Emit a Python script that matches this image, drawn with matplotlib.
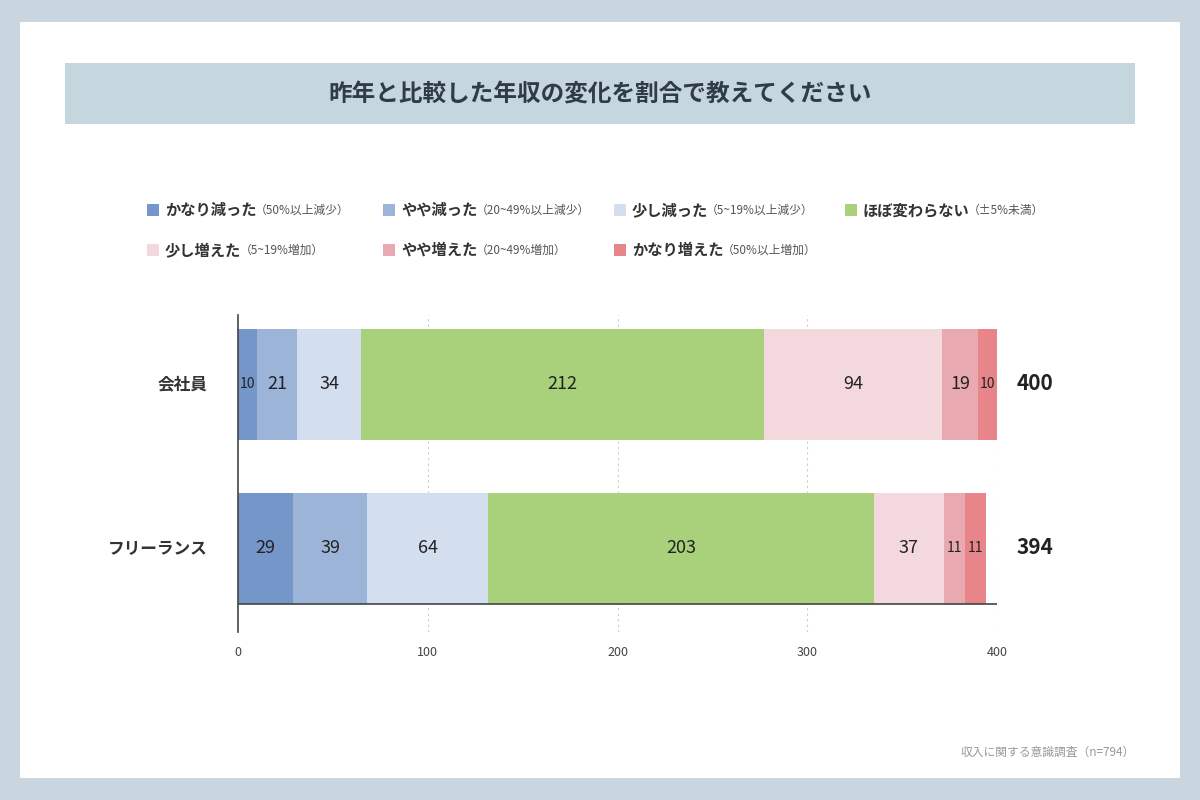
import matplotlib
matplotlib.use("Agg")
import matplotlib.pyplot as plt
from matplotlib.patches import Rectangle

plt.rcParams["font.family"] = "Noto Sans CJK JP"

categories = ["会社員", "フリーランス"]
series_names = ["かなり減った", "やや減った", "少し減った", "ほぼ変わらない", "少し増えた", "やや増えた", "かなり増えた"]
series_notes = ["（50%以上減少）", "（20~49%以上減少）", "（5~19%以上減少）", "（±5%未満）", "（5~19%増加）", "（20~49%増加）", "（50%以上増加）"]
values = {
    "会社員": [10, 21, 34, 212, 94, 19, 10],
    "フリーランス": [29, 39, 64, 203, 37, 11, 11],
}
totals = [400, 394]
xticks = [0, 100, 200, 300, 400]
colors = ["#7596c8", "#9db4d9", "#d3deef", "#a9d07b", "#f3d8de", "#e8aab0", "#e8858b"]

fig = plt.figure(figsize=(12, 8), dpi=100)
fig.patch.set_facecolor("#c9d6df")
fig.add_artist(Rectangle((20/1200, 22/800), 1160/1200, 756/800, transform=fig.transFigure, facecolor="white", edgecolor="none", zorder=-10))
fig.add_artist(Rectangle((65/1200, 1-124/800), 1070/1200, 61/800, transform=fig.transFigure, facecolor="#c6d6de", edgecolor="none", zorder=-9))
fig.text(600/1200, 1-95/800, "昨年と比較した年収の変化を割合で教えてください", ha="center", va="center", fontsize=17, fontweight="bold", color="#2f3b45")

leg_pos = [(147, 210), (383, 210), (614, 210), (845, 210), (147, 250), (383, 250), (614, 250)]
for (lx, ly), n, note, c in zip(leg_pos, series_names, series_notes, colors):
    fig.add_artist(Rectangle((lx/1200, 1-(ly+6)/800), 12/1200, 12/800, transform=fig.transFigure, facecolor=c, edgecolor="none"))
    t = fig.text((lx+18)/1200, 1-ly/800, n, ha="left", va="center", fontsize=11, fontweight="bold", color="#333333")
    fig.canvas.draw()
    bb = t.get_window_extent()
    fig.text((bb.x1-2)/1200, 1-ly/800, note, ha="left", va="center", fontsize=8.5, color="#555555")

ax = fig.add_axes([238/1200, 1-632/800, 759/1200, 317/800])
ax.set_xlim(0, 400)
ax.set_ylim(0, 317)
centers = [632-384, 632-548]
for cat, yc, tot in zip(categories, centers, totals):
    left = 0
    for v, c in zip(values[cat], colors):
        ax.barh(yc, v, left=left, height=111, color=c, edgecolor="none", zorder=2)
        fs = 10 if v < 15 else 13
        ax.text(left + v/2, yc, str(v), ha="center", va="center", fontsize=fs, color="#222222", zorder=3)
        left += v
    ax.text(1.05, yc, str(tot), transform=ax.get_yaxis_transform(), ha="center", va="center", fontsize=15, fontweight="bold", color="#222222")
    ax.text(-0.04, yc, cat, transform=ax.get_yaxis_transform(), ha="right", va="center", fontsize=12, fontweight="bold", color="#333333")

for x in xticks[1:]:
    ax.axvline(x, color="#cccccc", linestyle=(0, (2, 3)), linewidth=0.8, zorder=0)
ax.axhline(28, color="#444444", linewidth=1.2, zorder=4)
for s in ["top", "right", "bottom"]:
    ax.spines[s].set_visible(False)
ax.spines["left"].set_color("#444444")
ax.spines["left"].set_linewidth(1.2)
ax.spines["left"].set_zorder(5)
ax.set_yticks([])
ax.set_xticks(xticks)
ax.tick_params(axis="x", length=0, labelsize=9, colors="#444444", pad=10)
ax.patch.set_alpha(0)

fig.text(1135/1200, 1-752/800, "収入に関する意識調査（n=794）", ha="right", va="center", fontsize=8.5, color="#999999")
fig.savefig("out.png", dpi=100, facecolor=fig.get_facecolor())
